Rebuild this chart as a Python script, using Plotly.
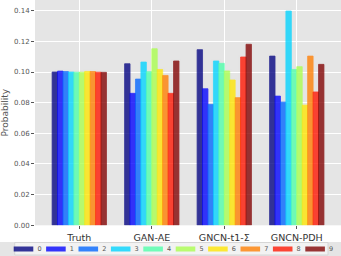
import plotly.graph_objects as go

categories = ["Truth", "GAN-AE", "GNCN-t1-Σ", "GNCN-PDH"]
labels = ["0", "1", "2", "3", "4", "5", "6", "7", "8", "9"]
# values[k] = probability of digit k in each category
values = [
    [0.1000, 0.1054, 0.1146, 0.1104],
    [0.1006, 0.0861, 0.0891, 0.0843],
    [0.1003, 0.0954, 0.0789, 0.0804],
    [0.1000, 0.1065, 0.1072, 0.1398],
    [0.0999, 0.1002, 0.1057, 0.1017],
    [0.0999, 0.1152, 0.1007, 0.1035],
    [0.1004, 0.1017, 0.0948, 0.0784],
    [0.1003, 0.0978, 0.0833, 0.1104],
    [0.0999, 0.0861, 0.1098, 0.0870],
    [0.0998, 0.1072, 0.1181, 0.1050],
]
colors = ["#000080", "#0000fe", "#0064ff", "#00d4ff", "#4dffaa",
          "#aaff4d", "#ffe600", "#ff7e00", "#ff1500", "#800000"]

W, H = 341, 256
OPAC = 0.78

fig = go.Figure()
for lab, vals, c in zip(labels, values, colors):
    fig.add_trace(go.Bar(
        x=categories, y=vals, name=lab, showlegend=False,
        marker=dict(color=c, opacity=OPAC, line=dict(color=c, width=0.8)),
        xaxis="x", yaxis="y",
    ))

# custom one-row legend drawn on its own small axes
fig.add_trace(go.Scatter(
    x=list(range(len(labels))), y=[0] * len(labels),
    mode="markers+text",
    marker=dict(symbol="line-ew", size=14, opacity=OPAC,
                line=dict(width=5, color=colors)),
    text=labels, texttemplate="\u00a0\u00a0%{text}", textposition="middle right",
    textfont=dict(size=6.5, color="#555555", family="DejaVu Sans"),
    showlegend=False, hoverinfo="skip",
    xaxis="x2", yaxis="y2", cliponaxis=False,
))

font_family = "DejaVu Sans"
fig.update_layout(
    width=W, height=H,
    margin=dict(l=0, r=0, t=0, b=0, autoexpand=False),
    paper_bgcolor="white",
    plot_bgcolor="#E5E5E5",
    barmode="group",
    bargap=0.25,
    bargroupgap=0,
    font=dict(family=font_family, color="#555555"),
    showlegend=False,
    xaxis=dict(
        domain=[35 / W, 1],
        range=[-0.611, 3.61],
        showgrid=True, gridcolor="white", gridwidth=1,
        ticks="outside", ticklen=3, tickcolor="#555555",
        tickfont=dict(size=9.5, color="#333333"),
        zeroline=False, anchor="y",
    ),
    yaxis=dict(
        domain=[30.7 / H, 1],
        range=[0, 0.147],
        dtick=0.02, tickformat=".2f",
        showgrid=True, gridcolor="white", gridwidth=1,
        ticks="outside", ticklen=3, tickcolor="#555555",
        tickfont=dict(size=7, color="#555555"),
        zeroline=False, anchor="x",
        title=dict(text="Probability", font=dict(size=9, color="#555555"), standoff=8),
    ),
    xaxis2=dict(
        domain=[0, 1], range=[-23.5 / 32.4, (W - 23.5) / 32.4],
        visible=False, anchor="y2",
    ),
    yaxis2=dict(
        domain=[0, 14 / H], range=[-1, 1],
        visible=False, anchor="x2",
    ),
    shapes=[dict(
        type="rect", xref="paper", yref="paper",
        x0=14.7 / W, x1=328 / W, y0=1 / H, y1=13.5 / H,
        fillcolor="#f2f2f2", line=dict(color="#d6d6d6", width=1),
        layer="below",
    )],
)

fig.write_html(
    "out.html",
    config={"displayModeBar": False},
    post_script="document.body.style.margin='0';document.body.style.overflow='hidden';",
)
